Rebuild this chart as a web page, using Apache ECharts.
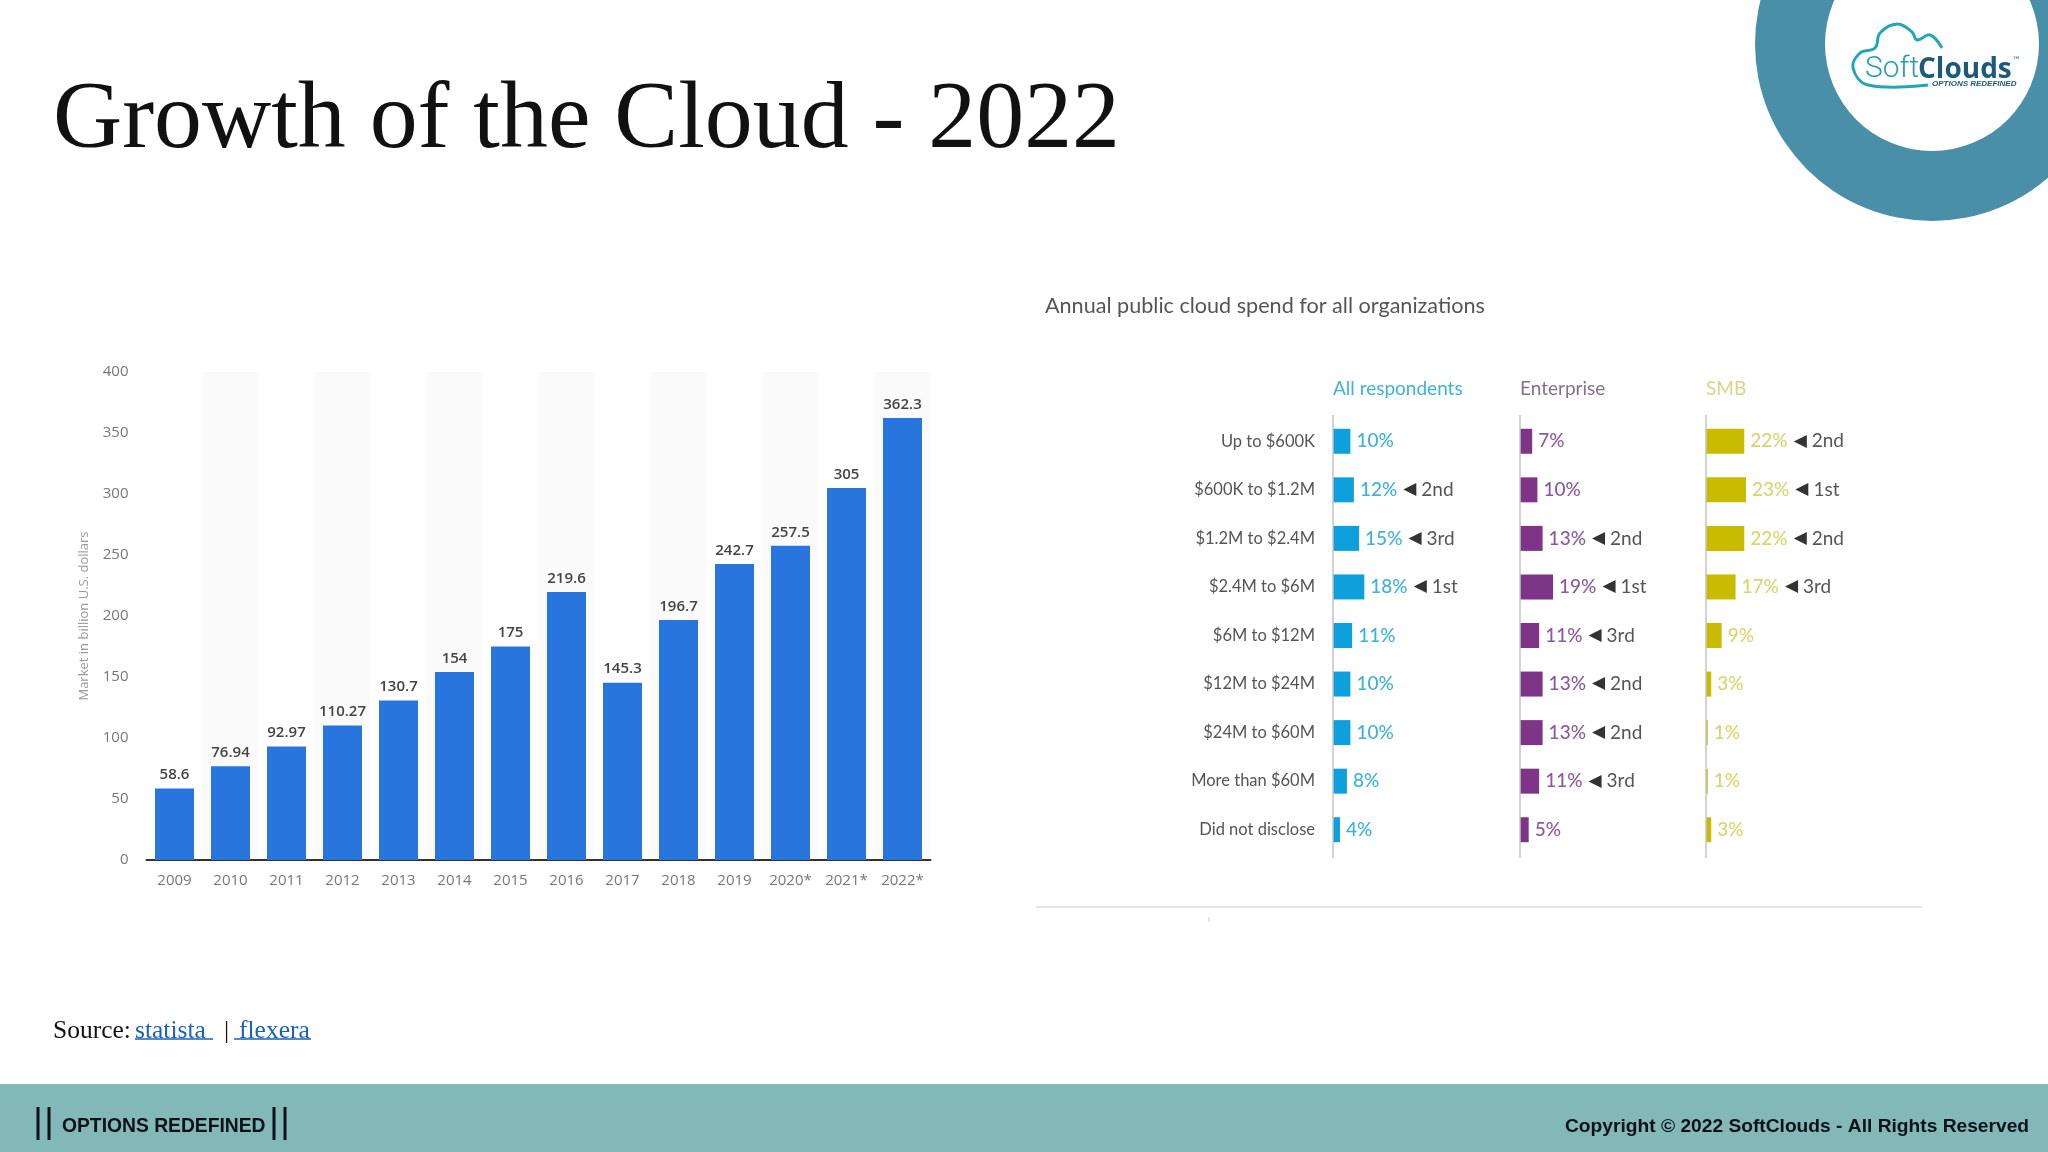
<!DOCTYPE html>
<html lang="en">
<head>
    <meta charset="UTF-8">
    <title>Growth of the Cloud - 2022</title>
    <style>
        html, body {margin: 0; padding: 0; background: #fff;}
    </style>
</head>
<body>
<div id="main" style="width: 2048px;height: 1152px"></div>
</body>
<script src="https://cdn.jsdelivr.net/npm/echarts@6/dist/echarts.min.js"></script>
<script>
    // left chart: market size
    const years = ['2009', '2010', '2011', '2012', '2013', '2014', '2015', '2016', '2017', '2018', '2019', '2020*', '2021*', '2022*']
    const marketValues = [58.6, 76.94, 92.97, 110.27, 130.7, 154, 175, 219.6, 145.3, 196.7, 242.7, 257.5, 305, 362.3]

    // right chart: annual spend bands
    const spendBands = ['Up to $600K', '$600K to $1.2M', '$1.2M to $2.4M', '$2.4M to $6M', '$6M to $12M', '$12M to $24M', '$24M to $60M', 'More than $60M', 'Did not disclose']
    const allRespondents = [10, 12, 15, 18, 11, 10, 10, 8, 4]
    const enterprise = [7, 10, 13, 19, 11, 13, 13, 11, 5]
    const smb = [22, 23, 22, 17, 9, 3, 1, 1, 3]
    const allRanks = ['', '2nd', '3rd', '1st', '', '', '', '', '']
    const enterpriseRanks = ['', '', '2nd', '1st', '3rd', '2nd', '2nd', '3rd', '']
    const smbRanks = ['2nd', '1st', '2nd', '3rd', '', '', '', '', '']

    const SERIF = '"Liberation Serif", serif'
    const SANS = '"Liberation Sans", sans-serif'
    const STATISTA_FONT = '"Open Sans", sans-serif'
    const REPORT_FONT = 'Lato, sans-serif'

    // one column of the right chart
    function spendSeries(name, values, ranks, barColor, textColor, index) {
        return {
            name: name,
            type: 'bar',
            xAxisIndex: index,
            yAxisIndex: index,
            data: values,
            barWidth: 25,
            itemStyle: {color: barColor},
            label: {
                show: true,
                position: 'right',
                distance: 6,
                formatter: function (p) {
                    let rank = ranks[p.dataIndex]
                    return '{p|' + p.value + '%}' + (rank ? '{a|◀}{r|' + rank + '}' : '')
                },
                rich: {
                    p: {color: textColor, fontFamily: REPORT_FONT, fontSize: 19, fontWeight: 500},
                    a: {color: '#333', fontFamily: '"DejaVu Sans"', fontSize: 17, padding: [0, 5, 0, 6]},
                    r: {color: '#555', fontFamily: REPORT_FONT, fontSize: 19}
                }
            }
        }
    }

    function spendAxes(index, left, showLabels) {
        return {
            grid: {left: left, top: 417, width: 174, height: 437},
            xAxis: {gridIndex: index, type: 'value', min: 0, max: 100, show: false},
            yAxis: {
                gridIndex: index,
                type: 'category',
                inverse: true,
                data: spendBands,
                axisTick: {show: false},
                axisLine: {show: false},
                axisLabel: {
                    show: showLabels,
                    margin: 18,
                    color: '#555',
                    fontFamily: REPORT_FONT,
                    fontSize: 16.5
                }
            }
        }
    }

    const col1 = spendAxes(1, 1333, true)
    const col2 = spendAxes(2, 1520, false)
    const col3 = spendAxes(3, 1706, false)

    function headerText(text, x, color) {
        return {
            text: text,
            left: x,
            top: 379,
            padding: 0,
            textStyle: {color: color, fontFamily: REPORT_FONT, fontSize: 19, fontWeight: 'normal'}
        }
    }

    // the column lines run a little past the first and last row
    function columnLine(x) {
        return {type: 'line', z: 10, shape: {x1: x, y1: 415, x2: x, y2: 858}, style: {stroke: '#c4c4c4', lineWidth: 1.5}}
    }

    let chart = echarts.init(document.getElementById('main'))
    let option = {
        animation: false,
        backgroundColor: '#fff',
        title: [
            {
                text: 'Growth of the Cloud - 2022',
                left: 53,
                top: 74,
                padding: 0,
                textStyle: {color: '#111', fontFamily: SERIF, fontSize: 95.8, fontWeight: 'normal'}
            },
            {
                text: 'Annual public cloud spend for all organizations',
                left: 1045,
                top: 295,
                padding: 0,
                textStyle: {color: '#555', fontFamily: REPORT_FONT, fontSize: 21.6, fontWeight: 'normal'}
            },
            headerText('All respondents', 1333, '#3fb2d8'),
            headerText('Enterprise', 1520, '#85708f'),
            headerText('SMB', 1706, '#d8d586')
        ],
        grid: [
            {left: 146.5, top: 372, width: 784, height: 488},
            col1.grid, col2.grid, col3.grid
        ],
        xAxis: [
            {
                type: 'category',
                data: years,
                axisTick: {show: false},
                axisLine: {lineStyle: {color: '#333', width: 2}},
                axisLabel: {color: '#777', margin: 13, fontFamily: STATISTA_FONT, fontSize: 15},
                splitArea: {show: true, areaStyle: {color: ['#ffffff', '#fafafa']}}
            },
            col1.xAxis, col2.xAxis, col3.xAxis
        ],
        yAxis: [
            {
                type: 'value',
                min: 0,
                max: 400,
                interval: 50,
                name: 'Market in billion U.S. dollars',
                nameLocation: 'middle',
                nameGap: 56,
                nameTextStyle: {color: '#999', fontFamily: STATISTA_FONT, fontSize: 13},
                axisLine: {show: false},
                axisTick: {show: false},
                axisLabel: {color: '#777', margin: 18, fontFamily: STATISTA_FONT, fontSize: 15},
                splitLine: {lineStyle: {color: '#d8d8d8', type: 'dotted'}}
            },
            col1.yAxis, col2.yAxis, col3.yAxis
        ],
        series: [
            {
                name: 'Market',
                type: 'bar',
                data: marketValues,
                barWidth: 39,
                itemStyle: {color: '#2875dd'},
                label: {
                    show: true,
                    position: 'top',
                    distance: 6,
                    color: '#444',
                    fontFamily: STATISTA_FONT,
                    fontSize: 15,
                    fontWeight: 600
                }
            },
            spendSeries('All respondents', allRespondents, allRanks, '#0ea0dc', '#3fb2d8', 1),
            spendSeries('Enterprise', enterprise, enterpriseRanks, '#7e3587', '#8a5a9a', 2),
            spendSeries('SMB', smb, smbRanks, '#c9bc00', '#d8d56e', 3)
        ],
        graphic: [
            // logo ring, top right
            {type: 'ring', shape: {cx: 1932, cy: 44, r: 177, r0: 107}, style: {fill: '#4a8fa8'}},
            {
                type: 'polyline',
                shape: {
                    points: [[1928, 85], [1868, 85], [1853, 68], [1860, 53], [1875, 48], [1880, 33], [1897, 24], [1912, 32], [1917, 40], [1930, 35], [1942, 48]],
                    smooth: 0.4
                },
                style: {stroke: '#22a5b8', lineWidth: 3, fill: null}
            },
            {type: 'text', x: 1865, y: 84, style: {text: 'Soft', verticalAlign: 'bottom', fill: '#2a9db0', font: '300 30px Roboto'}},
            {type: 'text', x: 1918, y: 84, style: {text: 'Clouds', verticalAlign: 'bottom', fill: '#1c5a7d', font: 'bold 28px "Open Sans"'}},
            {type: 'text', x: 2012, y: 56, style: {text: '™', fill: '#1c5a7d', font: '9px "DejaVu Sans"'}},
            {type: 'text', x: 1932, y: 80, style: {text: 'OPTIONS REDEFINED', fill: '#1c5a7d', font: 'italic bold 8px "Liberation Sans"'}},

            columnLine(1333),
            columnLine(1520),
            columnLine(1706),

            // rule under the right chart
            {type: 'line', shape: {x1: 1036, y1: 907, x2: 1922, y2: 907}, style: {stroke: '#dddddd', lineWidth: 1.5}},
            {type: 'line', shape: {x1: 1209, y1: 917, x2: 1209, y2: 922}, style: {stroke: '#cccccc', lineWidth: 1}},

            // source line
            {type: 'text', x: 53, y: 1018, style: {text: 'Source:', fill: '#111', font: '25.5px ' + SERIF}},
            {type: 'text', x: 135, y: 1018, style: {text: 'statista', fill: '#1a62b8', font: '25.5px ' + SERIF}},
            {type: 'line', shape: {x1: 135, y1: 1039, x2: 213, y2: 1039}, style: {stroke: '#1a62b8', lineWidth: 1.5}},
            {type: 'text', x: 224, y: 1018, style: {text: '|', fill: '#111', font: '25.5px ' + SERIF}},
            {type: 'text', x: 239, y: 1018, style: {text: 'flexera', fill: '#1a62b8', font: '25.5px ' + SERIF}},
            {type: 'line', shape: {x1: 234, y1: 1039, x2: 311, y2: 1039}, style: {stroke: '#1a62b8', lineWidth: 1.5}},

            // footer band
            {type: 'rect', shape: {x: 0, y: 1084, width: 2048, height: 68}, style: {fill: '#82b8b8'}},
            {type: 'line', shape: {x1: 38, y1: 1107, x2: 38, y2: 1140}, style: {stroke: '#0c1018', lineWidth: 3}},
            {type: 'line', shape: {x1: 49, y1: 1107, x2: 49, y2: 1140}, style: {stroke: '#0c1018', lineWidth: 3}},
            {type: 'text', x: 62, y: 1117, style: {text: 'OPTIONS REDEFINED', fill: '#0c1018', font: 'bold 19.3px ' + SANS}},
            {type: 'line', shape: {x1: 274, y1: 1107, x2: 274, y2: 1140}, style: {stroke: '#0c1018', lineWidth: 3}},
            {type: 'line', shape: {x1: 285, y1: 1107, x2: 285, y2: 1140}, style: {stroke: '#0c1018', lineWidth: 3}},
            {type: 'text', x: 1565, y: 1117, style: {text: 'Copyright © 2022 SoftClouds - All Rights Reserved', fill: '#0c1018', font: 'bold 19.2px ' + SANS}}
        ]
    }
    chart.setOption(option)
</script>
</html>
